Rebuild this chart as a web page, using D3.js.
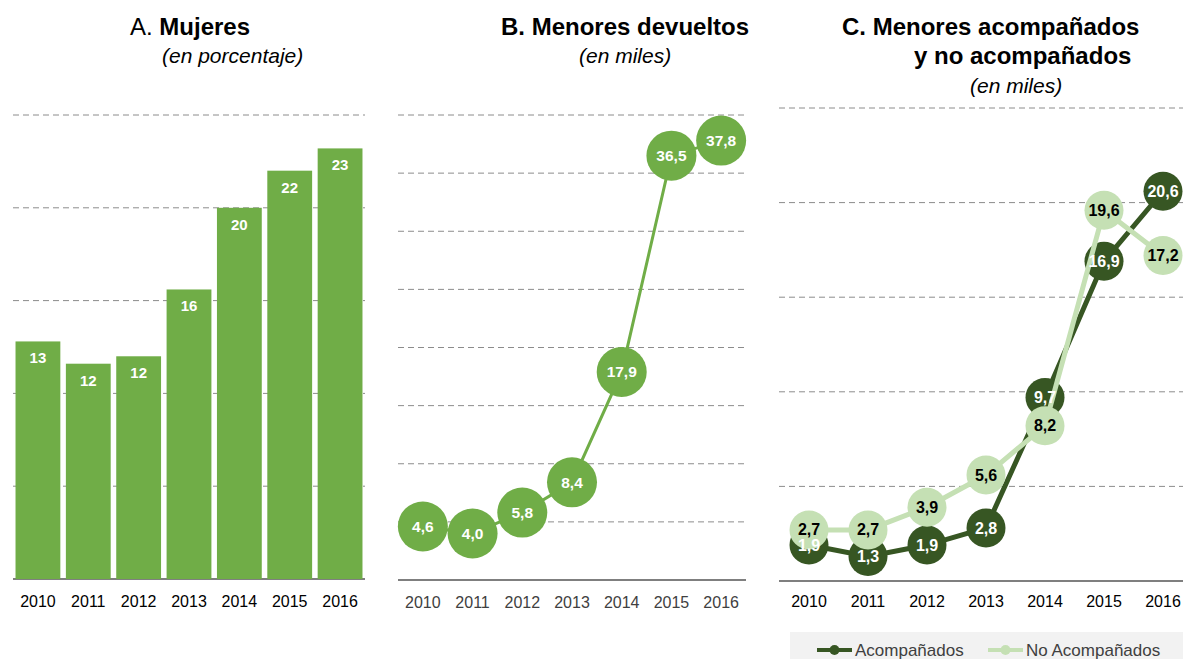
<!DOCTYPE html>
<html><head><meta charset="utf-8">
<script src="https://cdn.jsdelivr.net/npm/d3@7"></script>
<style>body{margin:0;background:#fff;}svg{display:block;font-family:"Liberation Sans",Arial,sans-serif;}</style>
</head><body>
<svg id="c" width="1183" height="659"></svg>
<script>
const years = ["2010","2011","2012","2013","2014","2015","2016"];
const mujeres = [12.8, 11.6, 12.0, 15.6, 20.0, 22.0, 23.2];
const devueltos = [4.6, 4.0, 5.8, 8.4, 17.9, 36.5, 37.8];
const acompanados = [1.9, 1.3, 1.9, 2.8, 9.7, 16.9, 20.6];
const noAcompanados = [2.7, 2.7, 3.9, 5.6, 8.2, 19.6, 17.2];
const ticksA = [0,5,10,15,20,25];
const ticksB = [0,5,10,15,20,25,30,35,40];
const ticksC = [0,5,10,15,20,25];
const seriesC = [
  {name:"Acompañados", values:acompanados, color:"#375623", text:"#fff"},
  {name:"No Acompañados", values:noAcompanados, color:"#C5E0B4", text:"#000"}
];

const svg = d3.select("#c");
const green = "#70AD47";
const fmt1 = v => d3.format(".1f")(v).replace(".", ",");
const fmt0 = d3.format(".0f");

function grid(g, y, ticks, x0, x1, base) {
  g.selectAll("line.grid").data(ticks.filter(t => t > 0)).join("line")
    .attr("x1", x0).attr("x2", x1).attr("y1", d => y(d)).attr("y2", d => y(d))
    .attr("stroke", "#8c8c8c").attr("stroke-width", 1).attr("stroke-dasharray", "6,4");
  g.append("line").attr("x1", x0).attr("x2", x1).attr("y1", base).attr("y2", base)
    .attr("stroke", "#7f7f7f").attr("stroke-width", 2);
}
function xlabels(g, x, off, y, color, w) {
  g.selectAll("text.yr").data(years).join("text")
    .attr("x", d => x(d) + off).attr("y", y).attr("text-anchor", "middle")
    .attr("font-size", 16).attr("fill", color).text(d => d);
}

// ---------- Panel A ----------
const gA = svg.append("g");
const xA = d3.scaleBand().domain(years).range([13, 365]).paddingInner(0.11).paddingOuter(0.05);
const yA = d3.scaleLinear().domain([0, 25]).range([579, 115]);
grid(gA, yA, ticksA, 13, 365, yA(0));
gA.selectAll("rect.bar").data(mujeres).join("rect")
  .attr("x", (d, i) => xA(years[i])).attr("width", xA.bandwidth())
  .attr("y", d => yA(d)).attr("height", d => yA(0) - yA(d)).attr("fill", green);
gA.selectAll("text.val").data(mujeres).join("text")
  .attr("x", (d, i) => xA(years[i]) + xA.bandwidth() / 2).attr("y", d => yA(d) + 22)
  .attr("text-anchor", "middle").attr("font-size", 15).attr("font-weight", "bold")
  .attr("fill", "#fff").text(d => fmt0(d));
xlabels(gA, xA, xA.bandwidth() / 2, 607, "#000");
const tA = gA.append("text").attr("x", 130).attr("y", 35).attr("font-size", 24);
tA.append("tspan").text("A. ");
tA.append("tspan").attr("font-weight", "bold").text("Mujeres");
gA.append("text").attr("x", 162).attr("y", 63).attr("font-size", 21).attr("font-style", "italic").text("(en porcentaje)");

// ---------- Panel B ----------
const gB = svg.append("g");
const xB = d3.scalePoint().domain(years).range([398, 746]).padding(0.5);
const yB = d3.scaleLinear().domain([0, 40]).range([580, 115]);
grid(gB, yB, ticksB, 398, 746, yB(0));
gB.append("path").datum(devueltos)
  .attr("d", d3.line().x((d, i) => xB(years[i])).y(d => yB(d)))
  .attr("fill", "none").attr("stroke", green).attr("stroke-width", 3);
gB.selectAll("circle").data(devueltos).join("circle")
  .attr("cx", (d, i) => xB(years[i])).attr("cy", d => yB(d)).attr("r", 25)
  .attr("fill", green);
gB.selectAll("text.val").data(devueltos).join("text")
  .attr("x", (d, i) => xB(years[i])).attr("y", d => yB(d) + 5.5)
  .attr("text-anchor", "middle").attr("font-size", 15.5).attr("font-weight", "bold")
  .attr("fill", "#fff").text(d => fmt1(d));
xlabels(gB, xB, 0, 608, "#404040");
gB.append("text").attr("x", 501).attr("y", 35).attr("font-size", 24).attr("font-weight", "bold").text("B. Menores devueltos");
gB.append("text").attr("x", 579).attr("y", 63).attr("font-size", 21).attr("font-style", "italic").text("(en miles)");

// ---------- Panel C ----------
const gC = svg.append("g");
const xC = d3.scalePoint().domain(years).range([779.5, 1192.5]).padding(0.5);
const yC = d3.scaleLinear().domain([0, 25]).range([581, 108]);
grid(gC, yC, ticksC, 779, 1183, yC(0));
seriesC.forEach(s => {
  const g = gC.append("g");
  g.append("path").datum(s.values)
    .attr("d", d3.line().x((d, i) => xC(years[i])).y(d => yC(d)))
    .attr("fill", "none").attr("stroke", s.color).attr("stroke-width", 5);
  g.selectAll("circle").data(s.values).join("circle")
    .attr("cx", (d, i) => xC(years[i])).attr("cy", d => yC(d)).attr("r", 19.5)
    .attr("fill", s.color);
});
seriesC.forEach(s => {
  gC.append("g").selectAll("text").data(s.values).join("text")
    .attr("x", (d, i) => xC(years[i])).attr("y", d => yC(d) + 5.5)
    .attr("text-anchor", "middle").attr("font-size", 16).attr("font-weight", "bold")
    .attr("fill", s.text).text(d => fmt1(d));
});
xlabels(gC, xC, 0, 607, "#000");
gC.append("text").attr("x", 842).attr("y", 35).attr("font-size", 24).attr("font-weight", "bold").text("C. Menores acompañados");
gC.append("text").attr("x", 914).attr("y", 64).attr("font-size", 24).attr("font-weight", "bold").text("y no acompañados");
gC.append("text").attr("x", 970).attr("y", 93).attr("font-size", 21).attr("font-style", "italic").text("(en miles)");

// Legend
const lg = svg.append("g");
lg.append("rect").attr("x", 790).attr("y", 632).attr("width", 400).attr("height", 30).attr("fill", "#f2f2f2");
const legX = [817, 988];
seriesC.forEach((s, i) => {
  const x0 = legX[i];
  lg.append("line").attr("x1", x0).attr("x2", x0 + 35).attr("y1", 650).attr("y2", 650)
    .attr("stroke", s.color).attr("stroke-width", 4);
  lg.append("circle").attr("cx", x0 + 17.5).attr("cy", 650).attr("r", 5).attr("fill", s.color);
  lg.append("text").attr("x", x0 + 38).attr("y", 656).attr("font-size", 17).attr("fill", "#404040").text(s.name);
});
</script>
</body></html>
